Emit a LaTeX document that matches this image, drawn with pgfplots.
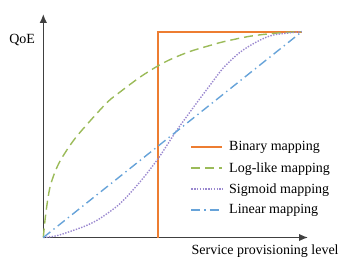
\documentclass[border=0pt]{standalone}
\usepackage{fontspec}
\setmainfont{Liberation Serif}
\usepackage{pgfplots}
\pgfplotsset{compat=1.18}
\usetikzlibrary{arrows.meta}
\definecolor{cBin}{HTML}{ED7D31}
\definecolor{cLog}{HTML}{9BBB59}
\definecolor{cSig}{HTML}{9A88CF}
\definecolor{cLin}{HTML}{67A3D9}
\definecolor{cAx}{HTML}{404040}
\newcommand{\fs}{\fontsize{14bp}{16bp}\selectfont}
\begin{document}
\begin{tikzpicture}
\begin{axis}[
  at={(0,0)}, anchor=origin,
  scale only axis,
  width=264.7bp, height=223.5bp,
  xmin=0, xmax=1.024, ymin=0, ymax=1.086,
  axis lines=left,
  axis line style={draw=cAx, line width=1.4bp, -{Latex[length=9bp,width=7.5bp]}},
  xtick=\empty, ytick=\empty,
  xlabel={Service provisioning level},
  ylabel={QoE},
  xlabel style={font=\fs, at={(axis description cs:0.838,-0.06)}, anchor=center},
  ylabel style={font=\fs, rotate=-90, at={(axis description cs:-0.08,0.884)}, anchor=center},
  clip=false,
  legend style={draw=none, fill=none, font=\fs, at={(axis description cs:0.555,0.439)}, anchor=north west, row sep=6bp, inner sep=0pt},
  legend cell align=left,
  legend image code/.code={\draw[#1] (0bp,0bp) -- (31bp,0bp); \path (35bp,0bp);},
]
\addplot[cBin, line width=1.8bp] coordinates {(0.445,0) (0.445,1) (1,1)};
\addlegendentry{Binary mapping}
\addplot[cLog, line width=1.4bp, dash pattern=on 9bp off 5bp, smooth] coordinates {
(0,0) (0.01,0.12) (0.027,0.25) (0.06,0.36) (0.116,0.47) (0.18,0.565) (0.25,0.66) (0.3,0.71) (0.375,0.78) (0.445,0.835) (0.5,0.87) (0.57,0.905) (0.65,0.935) (0.7,0.952) (0.8,0.978) (0.9,0.993) (1,1)};
\addlegendentry{Log-like mapping}
\addplot[cSig, line width=1.4bp, dash pattern=on 1.4bp off 1.4bp, smooth] coordinates {
(0,0) (0.05,0.008) (0.117,0.035) (0.17,0.06) (0.22,0.093) (0.297,0.165) (0.374,0.27) (0.445,0.385) (0.516,0.52) (0.594,0.655) (0.645,0.74) (0.697,0.825) (0.761,0.90) (0.826,0.951) (0.89,0.984) (1,1)};
\addlegendentry{Sigmoid mapping}
\addplot[cLin, line width=1.4bp, dash pattern=on 9bp off 4bp on 1.4bp off 4bp] coordinates {(0,0) (1,1)};
\addlegendentry{Linear mapping}
\end{axis}
\path (-43.3bp,-27.5bp) rectangle (303.7bp,237.5bp);
\end{tikzpicture}
\end{document}
